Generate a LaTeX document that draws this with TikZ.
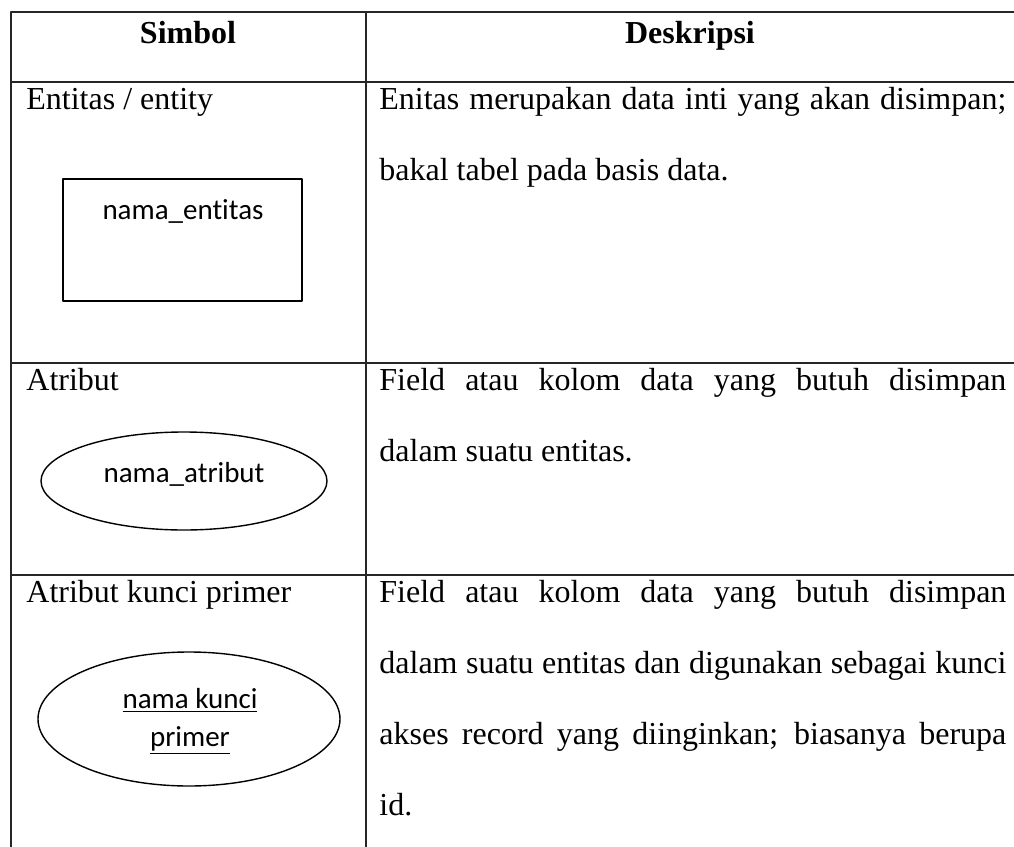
\documentclass[tikz,border=0pt]{standalone}
\usepackage{fontspec}
\setmainfont{Liberation Serif}
\newfontfamily\calibri[Ligatures={NoCommon,NoRare,NoDiscretionary}]{Carlito}
\usetikzlibrary{positioning}

\tikzset{
  rule/.style={line width=0.8pt,color=black!85},
  txt/.style={anchor=base west,inner sep=0pt,font=\fontsize{16}{19}\selectfont},
  head/.style={anchor=base,inner sep=0pt,font=\fontsize{16}{19}\selectfont\bfseries},
  shp/.style={line width=0.7pt},
  lbl/.style={anchor=base,inner sep=0pt,font=\fontsize{14.5}{17}\selectfont\calibri}
}
\newcommand{\fullline}[1]{\makebox[313.5pt][s]{#1}}

\begin{document}
\begin{tikzpicture}[x=0.5pt,y=-0.5pt,line cap=round,line join=round]
  \useasboundingbox (0,0) rectangle (1014,847);
  % table rules
  \draw[rule] (11,12) -- (1014,12);
  \draw[rule] (11,82) -- (1014,82);
  \draw[rule] (11,363) -- (1014,363);
  \draw[rule] (11,575) -- (1014,575);
  \draw[rule] (11,12) -- (11,847);
  \draw[rule] (366,12) -- (366,847);
  % header
  \node[head] (simbol) at (188,43) {Simbol};
  \node[head] (deskripsi) at (690,43) {Deskripsi};
  % entitas
  \node[txt] (entitas) at (26,109) {Entitas / entity};
  \draw[shp] (63,179) rectangle (302,301);
  \node[lbl] (namaentitas) at (183,219) {nama\_entitas};
  \node[txt] (desc1a) at (379,109) {\fullline{Enitas merupakan data inti yang akan disimpan;}};
  \node[txt] (desc1b) at (379,180) {bakal tabel pada basis data.};
  % atribut
  \node[txt] (atribut) at (26,390) {Atribut};
  \draw[shp] (184,481) ellipse (143 and 49);
  \node[lbl] (namaatribut) at (184,482) {nama\_atribut};
  \node[txt] (desc2a) at (379,390) {\fullline{Field atau kolom data yang butuh disimpan}};
  \node[txt] (desc2b) at (379,461) {dalam suatu entitas.};
  % atribut kunci primer
  \node[txt] (kunci) at (26,602) {Atribut kunci primer};
  \draw[shp] (189,719) ellipse (151 and 67);
  \node[lbl] (namakunci) at (190,708) {\underline{nama kunci}};
  \node[lbl] (primer) at (190,746) {\underline{primer}};
  \node[txt] (desc3a) at (379,602) {\fullline{Field atau kolom data yang butuh disimpan}};
  \node[txt] (desc3b) at (379,673) {\fullline{dalam suatu entitas dan digunakan sebagai kunci}};
  \node[txt] (desc3c) at (379,744) {\fullline{akses record yang diinginkan; biasanya berupa}};
  \node[txt] (desc3d) at (379,815) {id.};
\end{tikzpicture}
\end{document}
